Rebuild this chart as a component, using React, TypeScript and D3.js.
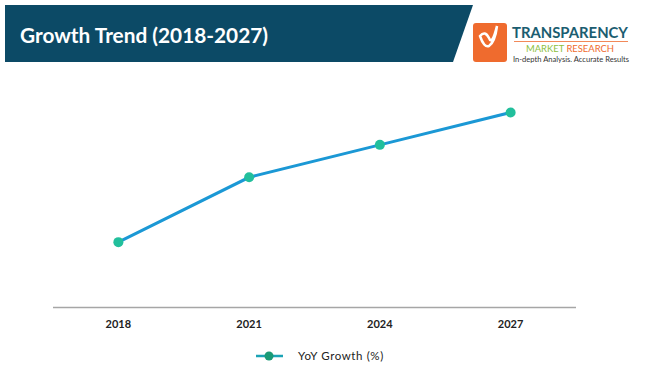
import React from "react";
import * as d3 from "d3";

const years = ["2018", "2021", "2024", "2027"];
const growth = [2.0, 4.0, 5.0, 6.0];
const seriesName = "YoY Growth (%)";
const title = "Growth Trend (2018-2027)";

export default function App() {
  const W = 653, H = 382;
  const x = d3.scaleBand<string>().domain(years).range([53, 576]);
  const y = d3.scaleLinear().domain([0, 7]).range([307, 80]);
  const line = d3
    .line<number>()
    .x((_, i) => (x(years[i]) as number) + x.bandwidth() / 2)
    .y((d) => y(d));
  const font = "Lato, 'Open Sans', sans-serif";
  return (
    <svg width={W} height={H} style={{ position: "absolute", left: 0, top: 0 }} fontFamily={font}>
      <rect width={W} height={H} fill="#fff" />
      <polygon points="5,5 473,5 453,62 5,62" fill="#0c4a66" />
      <text x={20} y={43} fill="#fff" fontSize={20.5} fontWeight={700} textLength={248} lengthAdjust="spacingAndGlyphs">{title}</text>
      {/* logo */}
      <rect x={473} y={23} width={34} height={39} rx={3} fill="#ef6b2e" />
      <path d="M480,36 q5,-6 9,2 q3,8 8,-12 q-2,16 -8,20 q-5,2 -9,-10z" fill="none" stroke="#fff" strokeWidth={2.5} />
      <text x={512} y={38} fill="#1b5d70" fontSize={16} fontWeight={700} textLength={116} lengthAdjust="spacingAndGlyphs">TRANSPARENCY</text>
      <line x1={514} x2={628} y1={41.5} y2={41.5} stroke="#ef6b2e" strokeWidth={0.8} />
      <text x={526} y={52} fontSize={9.5} textLength={88} lengthAdjust="spacingAndGlyphs">
        <tspan fill="#8dbf3e">MARKET </tspan>
        <tspan fill="#ef6b2e">RESEARCH</tspan>
      </text>
      <text x={513} y={61.5} fill="#333" fontSize={7} textLength={116} lengthAdjust="spacingAndGlyphs">In-depth Analysis. Accurate Results</text>
      {/* axis */}
      <line x1={53} x2={576} y1={307.5} y2={307.5} stroke="#a6a6a6" strokeWidth={1.5} />
      {years.map((yr) => (
        <text key={yr} x={(x(yr) as number) + x.bandwidth() / 2} y={328} textAnchor="middle" fontSize={11} fontWeight={700} fill="#222">{yr}</text>
      ))}
      <path d={line(growth) || ""} fill="none" stroke="#1b98d5" strokeWidth={3} />
      {growth.map((v, i) => (
        <circle key={i} cx={(x(years[i]) as number) + x.bandwidth() / 2} cy={y(v)} r={5} fill="#22bf9c" />
      ))}
      {/* legend */}
      <line x1={256} x2={283} y1={356} y2={356} stroke="#1ba3b5" strokeWidth={2.5} />
      <circle cx={269} cy={356} r={4.5} fill="#1a9a76" />
      <text x={298} y={360} fontSize={11.5} fill="#222" letterSpacing={0.6}>{seriesName}</text>
    </svg>
  );
}
